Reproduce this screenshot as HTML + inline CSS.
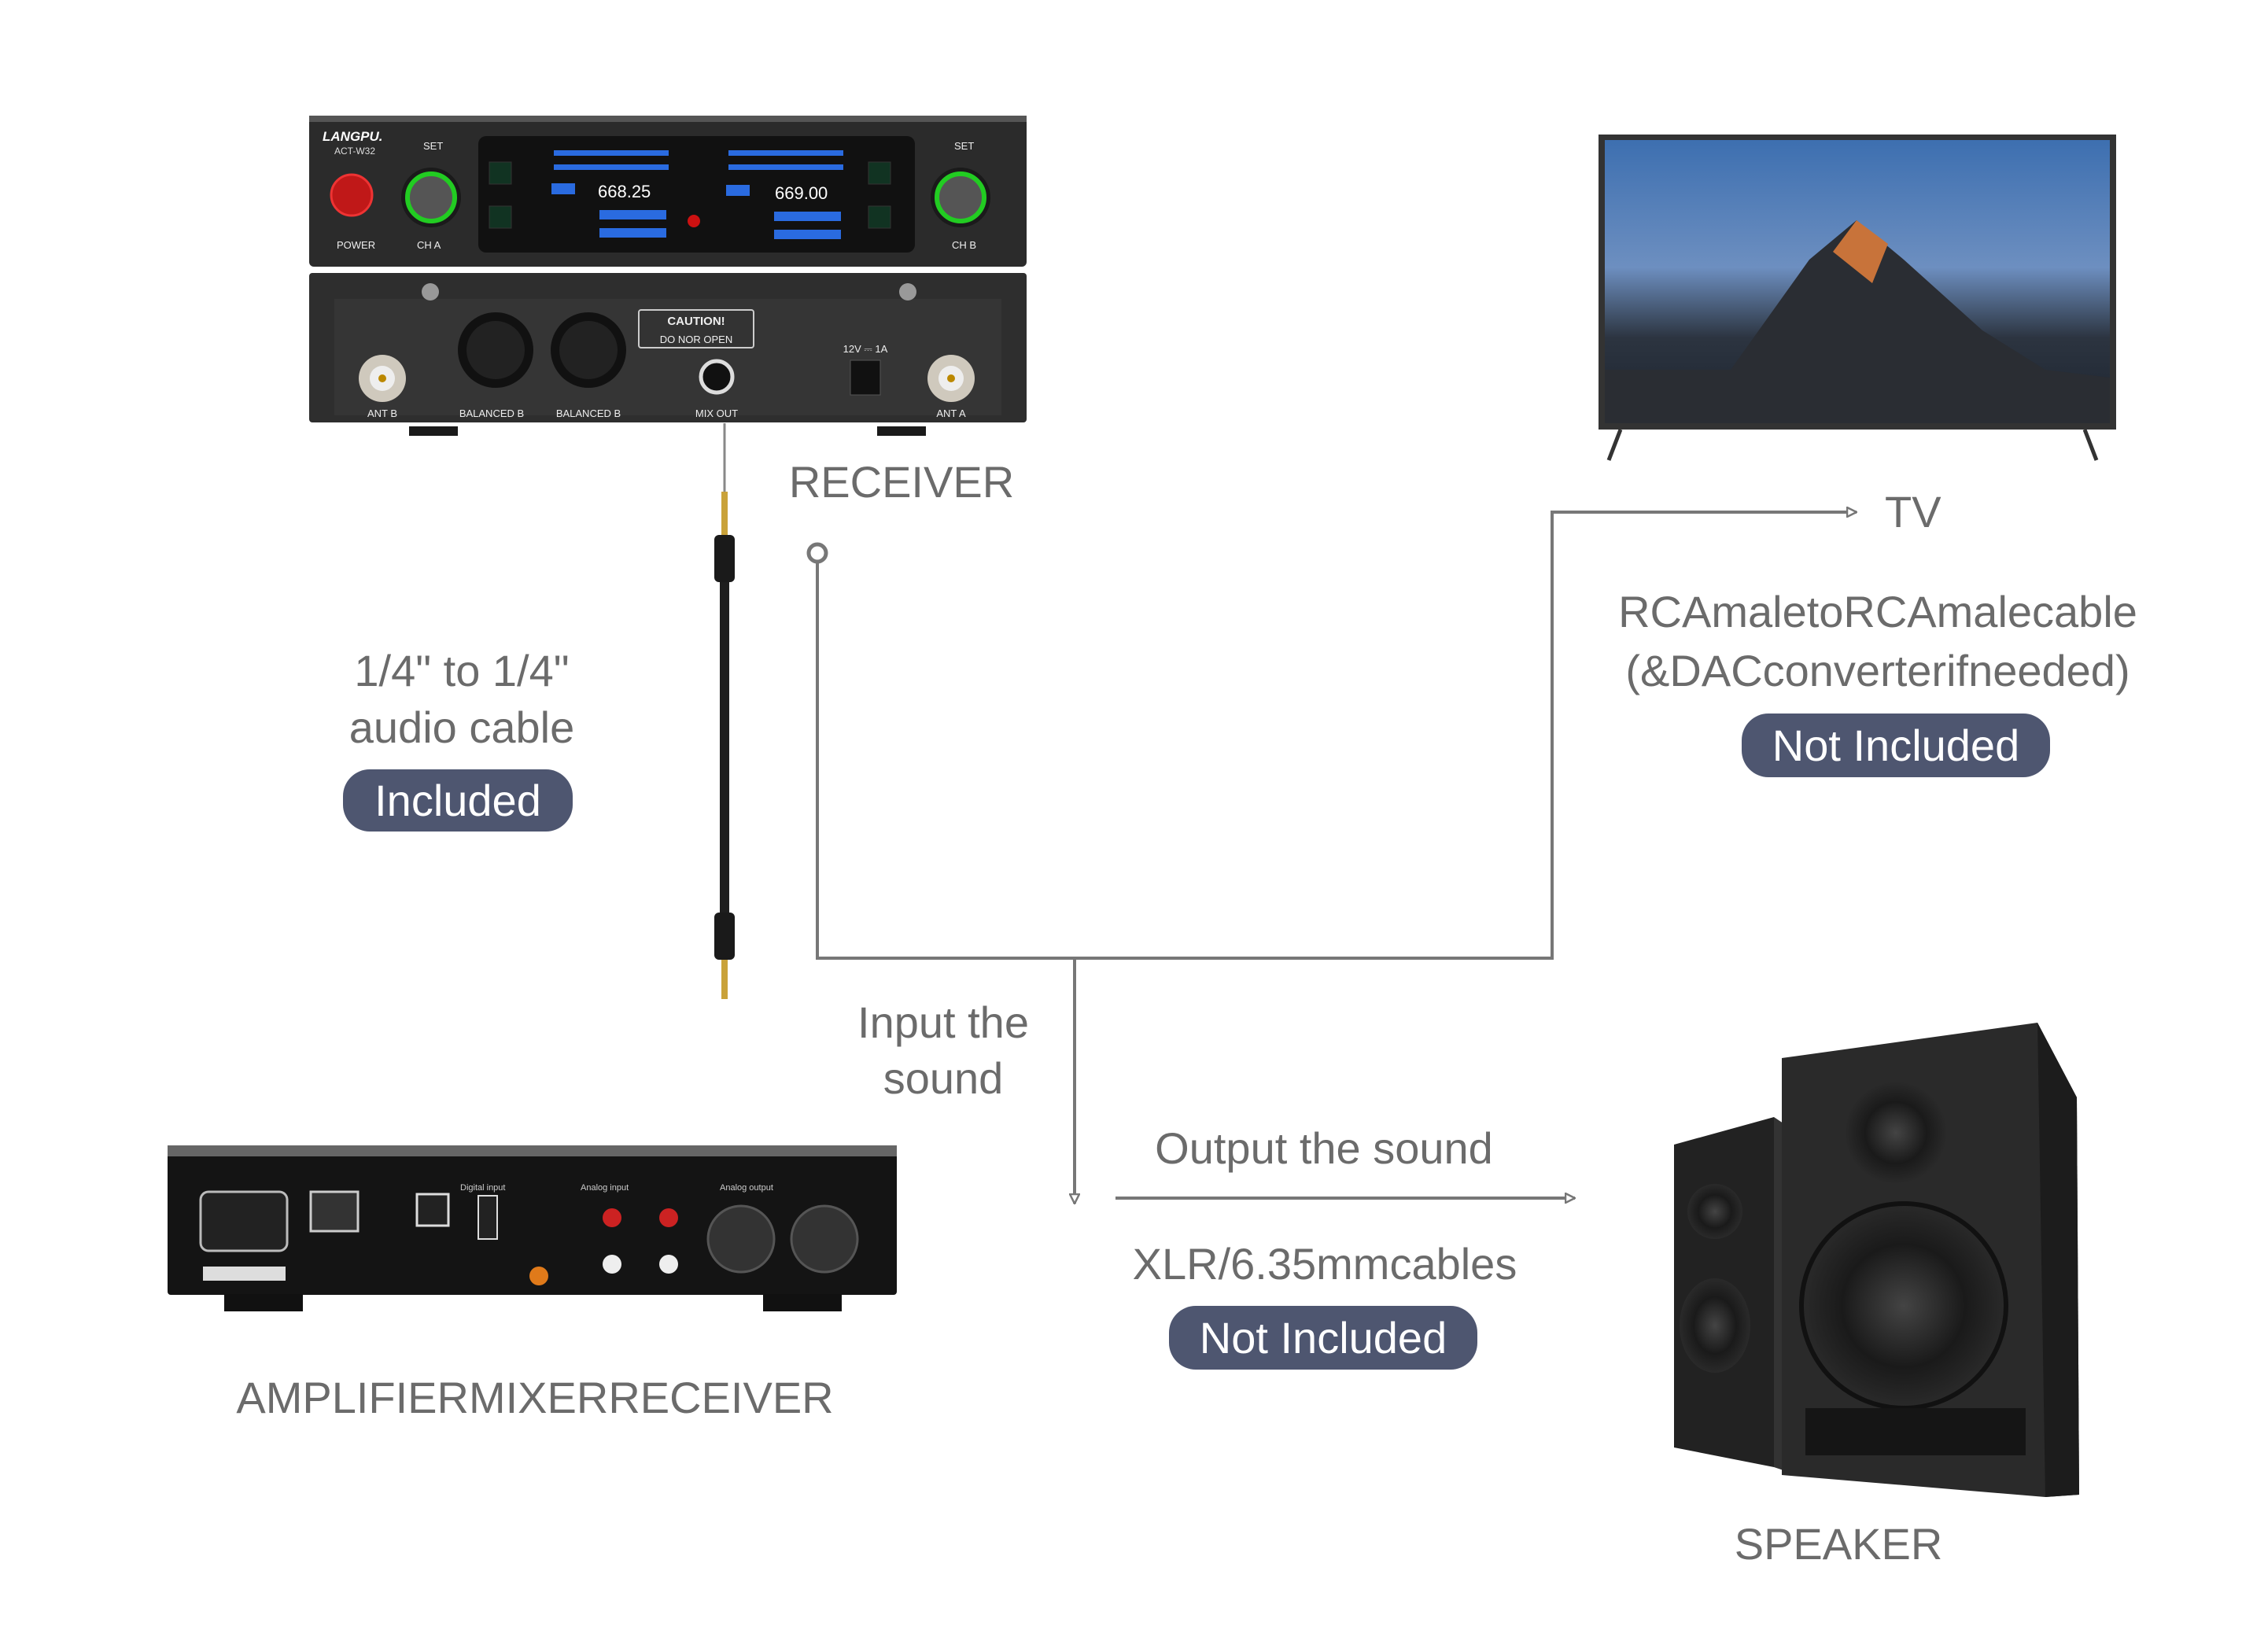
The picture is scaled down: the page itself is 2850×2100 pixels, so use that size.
<!DOCTYPE html>
<html><head><meta charset="utf-8"><style>
html,body{margin:0;padding:0;background:#fff;}
svg{display:block}
text{font-family:"Liberation Sans",sans-serif;}
</style></head><body>
<svg width="2850" height="2100" viewBox="0 0 2850 2100" xmlns="http://www.w3.org/2000/svg">
<defs>
<marker id="ah" markerWidth="14" markerHeight="14" refX="13" refY="7" orient="auto" markerUnits="userSpaceOnUse"><path d="M1,1 L13,7 L1,13 Z" fill="#fff" stroke="#777" stroke-width="2.5"/></marker>
<linearGradient id="tvg" x1="0" y1="0" x2="0" y2="1"><stop offset="0" stop-color="#3d6fb0"/><stop offset="0.45" stop-color="#6d8fc0"/><stop offset="0.7" stop-color="#2c3440"/><stop offset="1" stop-color="#1c2430"/></linearGradient>
<radialGradient id="spk" cx="0.5" cy="0.5" r="0.5"><stop offset="0" stop-color="#444"/><stop offset="0.6" stop-color="#1a1a1a"/><stop offset="1" stop-color="#2a2a2a"/></radialGradient>
</defs>

<!-- Receiver front -->
<rect x="393" y="147" width="912" height="192" rx="6" fill="#2b2b2b"/>
<rect x="393" y="147" width="912" height="8" fill="#555"/>
<text x="410" y="179" font-size="17" font-weight="bold" font-style="italic" fill="#fff">LANGPU.</text>
<text x="425" y="196" font-size="12" fill="#ddd">ACT-W32</text>
<circle cx="447" cy="248" r="26" fill="#c01818" stroke="#e33" stroke-width="3"/>
<text x="428" y="316" font-size="13" fill="#eee">POWER</text>
<circle cx="548" cy="251" r="38" fill="#1a1a1a"/><circle cx="548" cy="251" r="30" fill="#555" stroke="#2c2" stroke-width="6"/>
<text x="538" y="190" font-size="13" fill="#eee">SET</text><text x="530" y="316" font-size="13" fill="#eee">CH A</text>
<circle cx="1221" cy="251" r="38" fill="#1a1a1a"/><circle cx="1221" cy="251" r="30" fill="#555" stroke="#2c2" stroke-width="6"/>
<text x="1213" y="190" font-size="13" fill="#eee">SET</text><text x="1210" y="316" font-size="13" fill="#eee">CH B</text>
<rect x="608" y="173" width="555" height="148" rx="10" fill="#111"/>
<rect x="622" y="206" width="28" height="28" fill="#132" stroke="#333"/><rect x="622" y="262" width="28" height="28" fill="#132" stroke="#333"/>
<rect x="1104" y="206" width="28" height="28" fill="#132" stroke="#333"/><rect x="1104" y="262" width="28" height="28" fill="#132" stroke="#333"/>
<rect x="704" y="191" width="146" height="7" fill="#2a6be0"/><rect x="704" y="209" width="146" height="7" fill="#2a6be0"/>
<rect x="701" y="233" width="30" height="14" fill="#2a6be0"/>
<text x="760" y="251" font-size="22" fill="#fff">668.25</text>
<rect x="762" y="267" width="85" height="12" fill="#2a6be0"/><rect x="762" y="290" width="85" height="12" fill="#2a6be0"/>
<rect x="926" y="191" width="146" height="7" fill="#2a6be0"/><rect x="926" y="209" width="146" height="7" fill="#2a6be0"/>
<rect x="923" y="235" width="30" height="14" fill="#2a6be0"/>
<text x="985" y="253" font-size="22" fill="#fff">669.00</text>
<rect x="984" y="269" width="85" height="12" fill="#2a6be0"/><rect x="984" y="292" width="85" height="12" fill="#2a6be0"/>
<circle cx="882" cy="281" r="8" fill="#c11"/>
<!-- Receiver rear -->
<rect x="393" y="347" width="912" height="190" rx="4" fill="#2e2e2e"/>
<rect x="425" y="380" width="848" height="148" fill="#353535"/>
<rect x="520" y="542" width="62" height="12" fill="#1a1a1a"/><rect x="1115" y="542" width="62" height="12" fill="#1a1a1a"/>
<circle cx="486" cy="481" r="30" fill="#cfc9bd"/><circle cx="486" cy="481" r="16" fill="#eee"/><circle cx="486" cy="481" r="5" fill="#b80"/>
<circle cx="1209" cy="481" r="30" fill="#cfc9bd"/><circle cx="1209" cy="481" r="16" fill="#eee"/><circle cx="1209" cy="481" r="5" fill="#b80"/>
<circle cx="630" cy="445" r="48" fill="#111"/><circle cx="630" cy="445" r="37" fill="#222"/>
<circle cx="748" cy="445" r="48" fill="#111"/><circle cx="748" cy="445" r="37" fill="#222"/>
<circle cx="547" cy="371" r="11" fill="#999"/><circle cx="1154" cy="371" r="11" fill="#999"/>
<rect x="812" y="394" width="146" height="48" rx="3" fill="#333" stroke="#ccc" stroke-width="2"/>
<text x="885" y="413" font-size="15" font-weight="bold" fill="#eee" text-anchor="middle" font-family="Liberation Serif">CAUTION!</text>
<text x="885" y="436" font-size="13" fill="#eee" text-anchor="middle" font-family="Liberation Serif">DO NOR OPEN</text>
<circle cx="911" cy="479" r="20" fill="#111" stroke="#ddd" stroke-width="5"/>
<rect x="1081" y="458" width="38" height="44" fill="#111" stroke="#555"/>
<g font-size="13" fill="#eee" text-anchor="middle"><text x="486" y="530">ANT B</text><text x="625" y="530">BALANCED B</text><text x="748" y="530">BALANCED B</text><text x="911" y="530">MIX OUT</text><text x="1209" y="530">ANT A</text><text x="1100" y="448">12V ⎓ 1A</text></g>

<!-- cable -->
<line x1="921" y1="538" x2="921" y2="625" stroke="#888" stroke-width="3"/>
<rect x="917" y="625" width="8" height="55" fill="#c9a23a"/>
<rect x="908" y="680" width="26" height="60" rx="6" fill="#1a1a1a"/>
<rect x="915" y="740" width="12" height="420" fill="#1e1e1e"/>
<rect x="908" y="1160" width="26" height="60" rx="6" fill="#1a1a1a"/>
<rect x="917" y="1220" width="8" height="50" fill="#c9a23a"/>

<!-- connectors -->
<circle cx="1039" cy="703" r="11" fill="none" stroke="#777" stroke-width="5"/>
<polyline points="1039,716 1039,1218 1973,1218 1973,651 2360,651" fill="none" stroke="#777" stroke-width="4" marker-end="url(#ah)"/>
<line x1="1366" y1="1218" x2="1366" y2="1530" stroke="#777" stroke-width="4" marker-end="url(#ah)"/>
<line x1="1418" y1="1523" x2="2002" y2="1523" stroke="#777" stroke-width="4" marker-end="url(#ah)"/>

<!-- TV -->
<rect x="2032" y="171" width="658" height="375" fill="#333"/>
<rect x="2040" y="178" width="642" height="360" fill="url(#tvg)"/>
<polygon points="2200,470 2300,330 2360,280 2420,330 2520,420 2600,470 2682,480 2682,538 2040,538 2040,470" fill="#2a2d33"/>
<polygon points="2330,320 2360,280 2400,310 2380,360" fill="#c8733a"/>
<line x1="2060" y1="546" x2="2045" y2="585" stroke="#333" stroke-width="5"/><line x1="2650" y1="546" x2="2665" y2="585" stroke="#333" stroke-width="5"/>

<!-- amplifier -->
<rect x="213" y="1456" width="927" height="190" rx="4" fill="#141414"/>
<rect x="213" y="1456" width="927" height="14" fill="#666"/>
<rect x="285" y="1645" width="100" height="22" fill="#111"/><rect x="970" y="1645" width="100" height="22" fill="#111"/>
<rect x="255" y="1515" width="110" height="75" rx="10" fill="#222" stroke="#bbb" stroke-width="3"/>
<rect x="395" y="1515" width="60" height="50" fill="#333" stroke="#ccc" stroke-width="3"/>
<rect x="258" y="1610" width="105" height="18" fill="#ddd"/>
<rect x="530" y="1518" width="40" height="40" fill="#222" stroke="#ddd" stroke-width="3"/>
<rect x="608" y="1520" width="24" height="55" fill="#222" stroke="#ddd" stroke-width="2"/>
<circle cx="685" cy="1622" r="12" fill="#e07a1a"/>
<circle cx="778" cy="1548" r="12" fill="#c22"/><circle cx="778" cy="1607" r="12" fill="#eee"/>
<circle cx="850" cy="1548" r="12" fill="#c22"/><circle cx="850" cy="1607" r="12" fill="#eee"/>
<circle cx="942" cy="1575" r="42" fill="#333" stroke="#555" stroke-width="3"/><circle cx="1048" cy="1575" r="42" fill="#333" stroke="#555" stroke-width="3"/>
<text x="585" y="1513" font-size="11" fill="#ccc">Digital input</text><text x="738" y="1513" font-size="11" fill="#ccc">Analog input</text><text x="915" y="1513" font-size="11" fill="#ccc">Analog output</text>

<!-- speakers -->
<polygon points="2128,1455 2255,1420 2255,1865 2128,1840" fill="#222"/>
<polygon points="2255,1420 2270,1430 2270,1870 2255,1865" fill="#333"/>
<circle cx="2180" cy="1540" r="35" fill="url(#spk)"/><ellipse cx="2180" cy="1685" rx="45" ry="60" fill="url(#spk)"/>
<polygon points="2265,1345 2590,1300 2640,1395 2643,1900 2600,1903 2265,1875" fill="#2a2a2a"/>
<polygon points="2590,1300 2640,1395 2643,1900 2600,1903" fill="#1c1c1c"/>
<circle cx="2410" cy="1440" r="65" fill="url(#spk)"/>
<circle cx="2420" cy="1660" r="130" fill="url(#spk)" stroke="#111" stroke-width="6"/>
<rect x="2295" y="1790" width="280" height="60" fill="#151515"/>

<!-- labels -->
<g fill="#6b6b6b" font-size="56" text-anchor="middle">
<text x="1146" y="632">RECEIVER</text>
<text x="2396" y="670" text-anchor="start" x2="0">TV</text>
<text x="2387" y="797">RCAmaletoRCAmalecable</text>
<text x="2387" y="872">(&amp;DACconverterifneeded)</text>
<text x="587" y="872">1/4" to 1/4"</text>
<text x="587" y="944">audio cable</text>
<text x="1199" y="1319">Input the</text>
<text x="1199" y="1390">sound</text>
<text x="1683" y="1479">Output the sound</text>
<text x="1684" y="1626">XLR/6.35mmcables</text>
<text x="680" y="1796">AMPLIFIERMIXERRECEIVER</text>
<text x="2337" y="1982">SPEAKER</text>
</g>
<rect x="436" y="978" width="292" height="79" rx="34" fill="#4e5670"/>
<rect x="2214" y="907" width="392" height="81" rx="34" fill="#4e5670"/>
<rect x="1486" y="1660" width="392" height="81" rx="34" fill="#4e5670"/>
<g fill="#fff" font-size="56" text-anchor="middle">
<text x="582" y="1037">Included</text>
<text x="2410" y="967">Not Included</text>
<text x="1682" y="1720">Not Included</text>
</g>
</svg>
</body></html>
